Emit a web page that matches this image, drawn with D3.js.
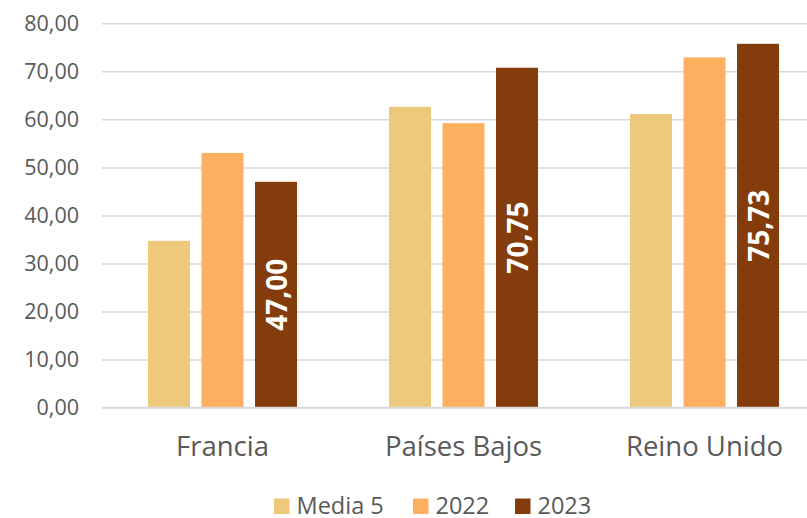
<!DOCTYPE html>
<html><head><meta charset="utf-8">
<script src="https://cdn.jsdelivr.net/npm/d3@7"></script>
<style>body{margin:0;background:#fff;overflow:hidden}svg{display:block}</style>
</head><body>
<svg id="c" width="807" height="518"></svg>
<script>
const categories = ["Francia", "Países Bajos", "Reino Unido"];
const seriesNames = ["Media 5", "2022", "2023"];
const media5 = [34.7, 62.6, 61.1];
const y2022 = [53.0, 59.2, 72.9];
const y2023 = [47.00, 70.75, 75.73];
const yTicks = [0, 10, 20, 30, 40, 50, 60, 70, 80];
const colors = ["#EEC97C", "#FFAF60", "#843C0C"];

const values = [media5, y2022, y2023];
const fmt = v => d3.format(".2f")(v).replace(".", ",");

const svg = d3.select("#c");
const W = 807;
const plotL = 102, plotR = 825, plotT = 23.3, plotB = 407.5;

const x = d3.scaleBand().domain(categories).range([plotL, plotR]).paddingInner(0).paddingOuter(0);
const xs = d3.scaleBand().domain(seriesNames).range([0, x.bandwidth()]).paddingInner(0.215).paddingOuter(0.86);
const y = d3.scaleLinear().domain([0, 80]).range([plotB, plotT]);

// gridlines
const yAxis = d3.axisLeft(y).tickValues(yTicks).tickSize(-(W - plotL)).tickFormat(fmt).tickPadding(23);
const gy = svg.append("g").attr("transform", `translate(${plotL},0)`).call(yAxis);
gy.select(".domain").remove();
gy.selectAll(".tick line").attr("stroke", "#d9d9d9").attr("stroke-width", 1.5);
gy.selectAll(".tick text").attr("fill", "#595959").style("font-family", "'Open Sans', sans-serif").style("font-size", "21.5px");

// bars
const groups = svg.append("g").selectAll("g").data(categories).join("g")
  .attr("transform", d => `translate(${x(d)},0)`);
seriesNames.forEach((s, si) => {
  groups.append("rect")
    .attr("x", xs(s))
    .attr("width", xs.bandwidth())
    .attr("y", (d, i) => y(values[si][i]))
    .attr("height", (d, i) => y(0) - y(values[si][i]))
    .attr("fill", colors[si]);
});

// labels for 2023
groups.append("text")
  .attr("transform", (d, i) => {
    const cx = xs("2023") + xs.bandwidth() / 2;
    const cy = (y(y2023[i]) + y(0)) / 2;
    return `translate(${cx},${cy}) rotate(-90)`;
  })
  .attr("text-anchor", "middle")
  .attr("dominant-baseline", "central")
  .attr("fill", "#fff")
  .style("font-family", "'Open Sans', sans-serif")
  .style("font-weight", "bold")
  .style("font-size", "28px")
  .text((d, i) => fmt(y2023[i]));

// baseline
svg.append("line").attr("x1", plotL).attr("x2", W).attr("y1", y(0)).attr("y2", y(0))
  .attr("stroke", "#d9d9d9").attr("stroke-width", 1.5);

// x axis labels
const xAxis = d3.axisBottom(x).tickSize(0).tickPadding(29);
const gx = svg.append("g").attr("transform", `translate(0,${plotB})`).call(xAxis);
gx.select(".domain").remove();
gx.selectAll(".tick text").attr("fill", "#595959").style("font-family", "'Open Sans', sans-serif").style("font-size", "27.5px");

// legend
const legendX = [274, 413, 515];
const lg = svg.append("g");
seriesNames.forEach((s, i) => {
  lg.append("rect").attr("x", legendX[i]).attr("y", 498.5).attr("width", 15.5).attr("height", 15.5).attr("fill", colors[i]);
  lg.append("text").attr("x", legendX[i] + 22.5).attr("y", 505).attr("dominant-baseline", "central")
    .attr("fill", "#595959").style("font-family", "'Open Sans', sans-serif").style("font-size", "23.5px").text(s);
});
</script>
</body></html>
